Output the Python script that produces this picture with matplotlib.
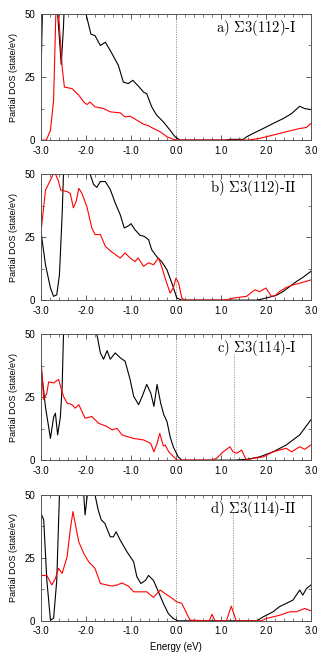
import matplotlib
matplotlib.use("Agg")
import matplotlib.pyplot as plt
from matplotlib.ticker import MultipleLocator, FormatStrFormatter

plt.rcParams['font.family'] = ['Liberation Sans', 'DejaVu Sans']
plt.rcParams['mathtext.fontset'] = 'cm'

# panel a) S3(112)-I
a_black_e = [-3.0, -2.97, -2.94, -2.7, -2.63, -2.55, -2.5, -2.48, -2.3, -2.05, -2.0, -1.89, -1.8, -1.68,
             -1.57, -1.46, -1.28, -1.17, -1.06, -0.96, -0.83, -0.72, -0.65, -0.54, -0.43, -0.28,
             -0.13, -0.02, 0.09, 1.1, 1.2, 1.5, 1.57, 1.71, 1.94, 2.16, 2.38, 2.57, 2.75, 2.86, 3.0]
a_black_dos = [25, 50, 65, 65, 50, 30, 45, 55, 70, 60, 50, 42, 41.4, 37.5,
               38.8, 35.5, 29.6, 23, 22.4, 23.7, 21.3, 19, 18.4, 13.2, 9.9, 7.2,
               3.9, 1.3, 0, 0, 0.3, 0.3, 1.3, 2.6, 4.6, 6.6, 8.5, 10.5, 13.4, 12.5, 12.1]
a_red_e = [-3.0, -2.88, -2.79, -2.72, -2.67, -2.63, -2.59, -2.53, -2.48, -2.42, -2.31, -2.16, -2.05,
           -1.98, -1.91, -1.8, -1.61, -1.46, -1.24, -1.13, -1.02, -0.87, -0.72, -0.61, -0.5,
           -0.35, -0.2, -0.06, 0.05, 1.6, 1.86, 2.16, 2.45, 2.75, 2.9, 3.0]
a_red_dos = [0, 0, 3.9, 15.8, 50, 56, 45, 29, 21, 20.8, 20.4, 17.8, 15.1,
             14.1, 15.1, 13.2, 12.5, 11.2, 10.8, 9.2, 9.5, 7.9, 6.3, 5.7, 4.6,
             3.3, 1.3, 0.3, 0, 0, 0.7, 2.0, 3.3, 4.6, 5.0, 6.6]

# panel b) S3(112)-II
b_black_e = [-3.0, -2.9, -2.79, -2.72, -2.65, -2.59, -2.53, -2.5, -2.3, -1.91, -1.83, -1.76, -1.68,
             -1.57, -1.46, -1.35, -1.24, -1.15, -1.06, -1.0, -0.91, -0.8, -0.71, -0.61, -0.54,
             -0.43, -0.32, -0.2, -0.09, 0.02, 0.13, 1.8, 2.0, 2.23, 2.38, 2.53, 2.68, 2.82, 3.0]
b_black_dos = [27, 14, 4.8, 1.5, 2.1, 10, 34, 50, 65, 50, 45.8, 44.7, 47,
               47, 43.8, 38.5, 33.9, 28.6, 29.4, 30.3, 27.9, 25.7, 25.3, 24, 20,
               17.3, 15.3, 12, 6.7, 0.8, 0, 0, 0.8, 1.9, 3.4, 5.4, 7.4, 9, 11.4]
b_red_e = [-3.0, -2.9, -2.79, -2.7, -2.61, -2.56, -2.42, -2.35, -2.28, -2.22, -2.16, -2.09, -1.98,
           -1.87, -1.8, -1.68, -1.57, -1.42, -1.24, -1.13, -1.02, -0.91, -0.84, -0.72, -0.61,
           -0.5, -0.39, -0.32, -0.24, -0.13, -0.06, 0.0, 0.06, 0.13, 0.2, 1.0, 1.12, 1.27,
           1.57, 1.75, 1.86, 2.0, 2.12, 2.2, 2.3, 2.45, 2.6, 2.75, 3.0]
b_red_dos = [27, 43.6, 47.6, 51, 47, 43.6, 43, 42.3, 36.6, 39, 44.3, 42.3, 37,
             28.6, 26, 26, 21.3, 19, 16.7, 18.7, 16.7, 15.3, 16.7, 13.4, 14.8,
             14, 16.7, 13.4, 8.7, 2.8, 4.8, 8.7, 6.7, 0.8, 0, 0, 0.1, 0.8,
             1.5, 4.1, 3.4, 4.8, 1.5, 1.7, 3.4, 5.0, 6.0, 6.7, 8.0]

# panel c) S3(114)-I
c_black_e = [-3.0, -2.9, -2.79, -2.72, -2.68, -2.63, -2.57, -2.53, -2.5, -2.2, -1.76, -1.68, -1.61,
             -1.53, -1.46, -1.35, -1.24, -1.13, -1.02, -0.94, -0.83, -0.75, -0.65, -0.56, -0.49,
             -0.42, -0.34, -0.27, -0.2, -0.13, -0.06, 0.05, 0.13, 1.3, 1.57, 1.86, 2.16, 2.45,
             2.75, 3.0]
c_black_dos = [37, 21, 8.6, 17, 18.6, 10, 17, 29, 50, 65, 50, 42.5, 40,
               43.4, 40, 42.5, 40.6, 39.2, 32, 25.3, 22, 25.3, 30, 26.6, 21.3,
               30, 22.6, 18, 15.3, 9.3, 5.3, 1.3, 0, 0, 0.3, 1.3, 3.3, 6,
               10, 16]
c_red_e = [-3.0, -2.94, -2.87, -2.83, -2.72, -2.61, -2.5, -2.42, -2.31, -2.24, -2.16, -2.02, -1.87,
           -1.72, -1.53, -1.42, -1.31, -1.2, -0.94, -0.72, -0.56, -0.49, -0.42, -0.36, -0.28,
           -0.24, -0.16, -0.05, 0.02, 0.79, 0.9, 1.05, 1.2, 1.27, 1.35, 1.46, 1.53, 1.57,
           1.71, 1.94, 2.16, 2.3, 2.45, 2.57, 2.75, 2.86, 3.0]
c_red_dos = [40, 24, 26.6, 31, 30.6, 32, 25.3, 22.6, 22, 20.6, 22, 16.6, 17.3,
             14.6, 13.3, 12, 12.6, 10, 8.6, 8, 6.6, 3.3, 6.6, 10.6, 5.6,
             6, 3.3, 1.3, 0, 0, 0.7, 3.3, 5.3, 3.3, 2.7, 4, 1.3, 0,
             0.7, 1.3, 3.3, 4, 4.7, 3.3, 5.3, 4.3, 6]

# panel d) S3(114)-II
d_black_e = [-3.0, -2.94, -2.87, -2.79, -2.72, -2.65, -2.59, -2.3, -2.05, -2.02, -1.97, -1.9, -1.8,
             -1.73, -1.66, -1.58, -1.46, -1.39, -1.33, -1.24, -1.09, -0.94, -0.87, -0.78, -0.68,
             -0.61, -0.5, -0.39, -0.28, -0.17, -0.06, 0.05, 1.8, 1.94, 2.16, 2.3, 2.45, 2.6,
             2.75, 2.82, 2.9, 3.0]
d_black_dos = [42.6, 40, 16, 0.3, 1, 16, 50, 65, 50, 42, 50, 60, 50,
               44, 40, 38.6, 33.3, 33.3, 35.3, 32, 27.4, 23.4, 17.5, 14.8, 16,
               18, 16, 11.5, 6.9, 2.9, 0.9, 0, 0, 1.6, 3.6, 5.6, 6.9, 8.2,
               12.2, 10.2, 12.8, 14.2]
d_red_e = [-3.0, -2.87, -2.76, -2.68, -2.61, -2.53, -2.42, -2.35, -2.29, -2.24, -2.16, -2.05, -1.94,
           -1.8, -1.68, -1.53, -1.42, -1.31, -1.2, -1.06, -0.94, -0.65, -0.5, -0.35, -0.24,
           -0.13, 0.02, 0.13, 0.24, 0.31, 0.74, 0.8, 0.87, 1.12, 1.23, 1.34, 1.9, 2.0,
           2.3, 2.53, 2.68, 2.86, 3.0]
d_red_dos = [18, 18, 14.2, 16.8, 20.8, 18.8, 25.4, 36, 43.3, 38.6, 31.3, 26.7, 23.4,
             20.8, 14.8, 14.2, 13.8, 14.2, 15, 13.8, 11.5, 11.5, 9.3, 12.2, 10.8,
             9.5, 7.5, 6.9, 2.9, 0.3, 0, 2.6, 0, 0, 5.8, 0, 0, 0.9,
             2.2, 3.6, 3.6, 4.9, 4.0]

labels = ['a)', 'b)', 'c)', 'd)']
names = ['$\\Sigma$3(112)-I', '$\\Sigma$3(112)-II', '$\\Sigma$3(114)-I', '$\\Sigma$3(114)-II']
marker_e = [None, None, 1.3, 1.27]   # extra dotted marker line
marker_top = [0, 0, 42, 43]

panels = [(a_black_e, a_black_dos, a_red_e, a_red_dos),
          (b_black_e, b_black_dos, b_red_e, b_red_dos),
          (c_black_e, c_black_dos, c_red_e, c_red_dos),
          (d_black_e, d_black_dos, d_red_e, d_red_dos)]

fig = plt.figure(figsize=(3.32, 6.64), dpi=100)
bottoms = [0.789, 0.548, 0.307, 0.065]

for i, (be, bd, re_, rd) in enumerate(panels):
    ax = fig.add_axes([0.1235, bottoms[i], 0.813, 0.190])
    ax.axvline(0.0, color='#888888', lw=0.6, ls=(0, (1.5, 1.5)))
    if marker_e[i] is not None:
        ax.plot([marker_e[i], marker_e[i]], [0, marker_top[i]], color='#888888', lw=0.6, ls=(0, (1.5, 1.5)))
    ax.plot(be, bd, color='black', lw=0.8)
    ax.plot(re_, rd, color='red', lw=0.8)
    ax.set_xlim(-3, 3)
    ax.set_ylim(0, 50)
    ax.xaxis.set_major_locator(MultipleLocator(1.0))
    ax.xaxis.set_minor_locator(MultipleLocator(0.2))
    ax.yaxis.set_major_locator(MultipleLocator(25))
    ax.yaxis.set_minor_locator(MultipleLocator(12.5))
    ax.xaxis.set_major_formatter(FormatStrFormatter('%.1f'))
    ax.tick_params(which='both', direction='in', top=True, right=True, labelsize=7, color='#444444')
    ax.tick_params(which='major', length=3.5, width=0.6, pad=4)
    ax.tick_params(which='minor', length=2, width=0.5)
    for s in ax.spines.values():
        s.set_color('#555555')
        s.set_linewidth(0.7)
    ax.set_ylabel('Partial DOS (state/eV)', fontsize=6.5, labelpad=5)
    ax.text(0.948, 0.965, labels[i] + ' ' + names[i], transform=ax.transAxes, ha='right', va='top',
            fontsize=10.5, family=['cmr10', 'DejaVu Serif'])
    if i == 3:
        ax.set_xlabel('Energy (eV)', fontsize=7, labelpad=4)

fig.savefig('out.png', dpi=100)
